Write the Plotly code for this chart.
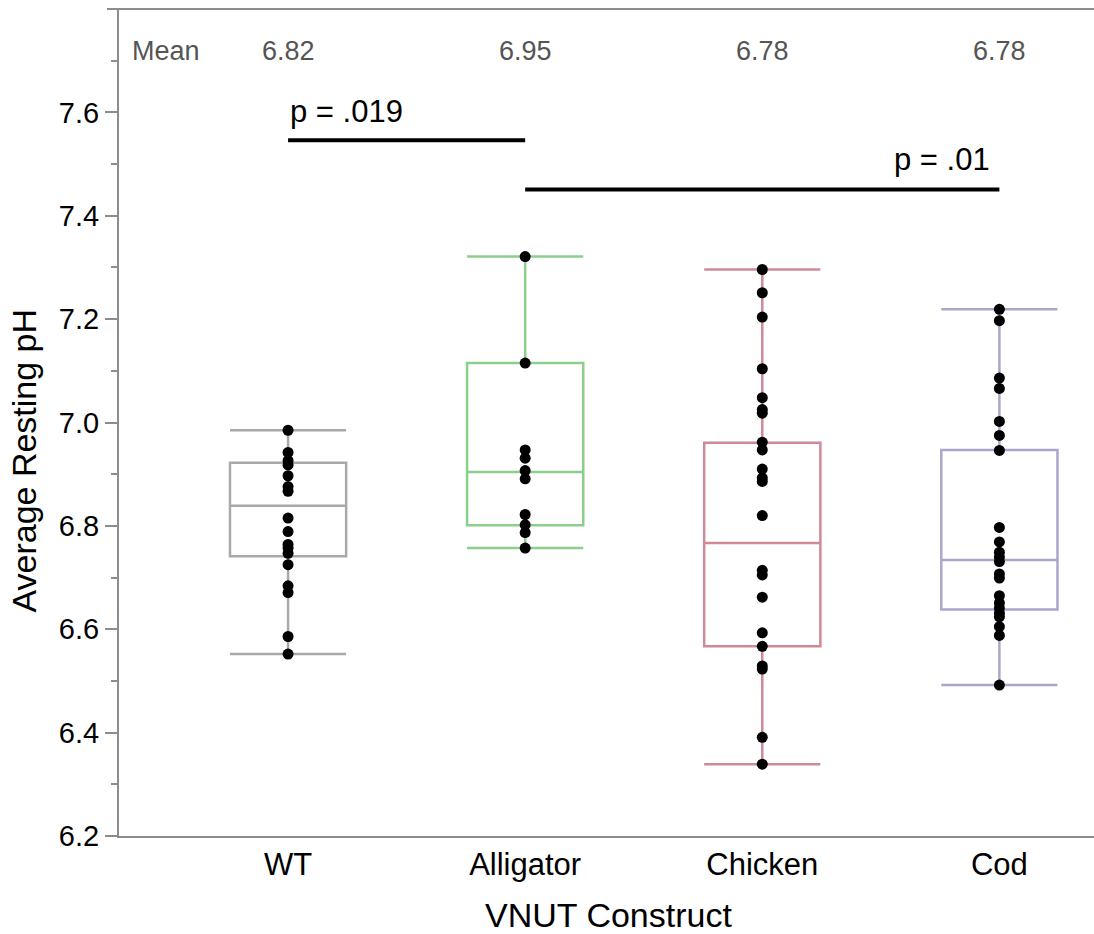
import plotly.graph_objects as go

categories = ["WT", "Alligator", "Chicken", "Cod"]
box_colors = ["#a9a9a9", "#8ccf8c", "#cf8a98", "#aba7cc"]

q1 = [6.741, 6.801, 6.567, 6.638]
median = [6.839, 6.904, 6.767, 6.734]
q3 = [6.922, 7.115, 6.961, 6.947]
lower_whisker = [6.552, 6.757, 6.339, 6.492]
upper_whisker = [6.985, 7.321, 7.296, 7.219]

mean_labels = ["6.82", "6.95", "6.78", "6.78"]

wt_points = [6.985, 6.942, 6.926, 6.918, 6.897, 6.876, 6.867, 6.815, 6.789,
             6.764, 6.757, 6.747, 6.725, 6.684, 6.671, 6.586, 6.552]
alligator_points = [7.321, 7.115, 6.947, 6.931, 6.907, 6.891, 6.822, 6.802,
                    6.787, 6.757]
chicken_points = [7.296, 7.251, 7.204, 7.104, 7.048, 7.025, 7.018, 6.962,
                  6.947, 6.910, 6.893, 6.886, 6.820, 6.714, 6.705, 6.662,
                  6.593, 6.567, 6.529, 6.523, 6.391, 6.339]
cod_points = [7.219, 7.197, 7.086, 7.066, 7.002, 6.975, 6.946, 6.797, 6.769,
              6.749, 6.740, 6.731, 6.707, 6.699, 6.665, 6.651, 6.641, 6.631,
              6.624, 6.605, 6.588, 6.492]
points = [wt_points, alligator_points, chicken_points, cod_points]

y_ticks = [6.2, 6.4, 6.6, 6.8, 7.0, 7.2, 7.4, 7.6]
y_minor = [6.3, 6.5, 6.7, 6.9, 7.1, 7.3, 7.5, 7.7]

FONT = "Liberation Sans, Arial, sans-serif"
AXIS_GRAY = "#8c8c8c"

fig = go.Figure()

for i, cat in enumerate(categories):
    fig.add_trace(go.Box(
        x=[cat], q1=[q1[i]], median=[median[i]], q3=[q3[i]],
        lowerfence=[lower_whisker[i]], upperfence=[upper_whisker[i]],
        width=0.49, whiskerwidth=1, boxpoints=False,
        line=dict(color=box_colors[i], width=2.5),
        fillcolor="rgba(0,0,0,0)", showlegend=False, hoverinfo="skip",
    ))

for i, cat in enumerate(categories):
    fig.add_trace(go.Scatter(
        x=[cat] * len(points[i]), y=points[i], mode="markers",
        marker=dict(color="black", size=11), showlegend=False,
    ))

# significance bars
fig.add_shape(type="line", xref="x", yref="y", x0=0, x1=1, y0=7.546, y1=7.546,
              line=dict(color="black", width=4))
fig.add_shape(type="line", xref="x", yref="y", x0=1, x1=3, y0=7.451, y1=7.451,
              line=dict(color="black", width=4))
fig.add_annotation(x=0, y=7.602, xref="x", yref="y", text="p = .019",
                   showarrow=False, xanchor="left", yanchor="middle",
                   font=dict(family=FONT, size=31, color="black"))
fig.add_annotation(x=2.97, y=7.509, xref="x", yref="y", text="p = .01",
                   showarrow=False, xanchor="right", yanchor="middle",
                   font=dict(family=FONT, size=31, color="black"))

# mean row
fig.add_annotation(x=0.0113, y=7.718, xref="paper", yref="y", text="Mean",
                   showarrow=False, xanchor="left", yanchor="middle",
                   font=dict(family=FONT, size=27, color="#555555"))
for i, cat in enumerate(categories):
    fig.add_annotation(x=i, y=7.718, xref="x", yref="y", text=mean_labels[i],
                       showarrow=False, xanchor="center", yanchor="middle",
                       font=dict(family=FONT, size=27, color="#555555"))

# top frame line (extends past axis like a tick)
fig.add_shape(type="line", xref="paper", yref="paper", x0=-0.0123, x1=1,
              y0=1, y1=1, line=dict(color=AXIS_GRAY, width=2))

# axis titles
fig.add_annotation(x=-0.0974, y=0.454, xref="paper", yref="paper",
                   text="Average Resting pH", textangle=-90, showarrow=False,
                   xanchor="center", yanchor="middle",
                   font=dict(family=FONT, size=34, color="black"))
fig.add_annotation(x=0.502, y=-0.0956, xref="paper", yref="paper",
                   text="VNUT Construct", showarrow=False,
                   xanchor="center", yanchor="middle",
                   font=dict(family=FONT, size=34, color="black"))

fig.update_xaxes(
    type="category", categoryorder="array", categoryarray=categories,
    range=[-0.713, 3.399], showline=True, linecolor=AXIS_GRAY, linewidth=2,
    ticks="", showgrid=False, zeroline=False,
    tickfont=dict(family=FONT, size=31, color="black"),
)
fig.update_yaxes(
    range=[6.2, 7.8], tickmode="array", tickvals=y_ticks,
    ticktext=[f"{v:.1f}" for v in y_ticks],
    showline=True, linecolor=AXIS_GRAY, linewidth=2,
    ticks="outside", ticklen=12, tickwidth=2, tickcolor=AXIS_GRAY,
    minor=dict(tickmode="array", tickvals=y_minor, ticklen=6, tickwidth=2,
               tickcolor=AXIS_GRAY, ticks="outside", showgrid=False),
    showgrid=False, zeroline=False,
    tickfont=dict(family=FONT, size=29, color="black"),
)

fig.update_layout(
    width=1094, height=934,
    margin=dict(l=119, r=0, t=9, b=98),
    plot_bgcolor="white", paper_bgcolor="white",
    showlegend=False,
)

fig.write_html("out.html")
